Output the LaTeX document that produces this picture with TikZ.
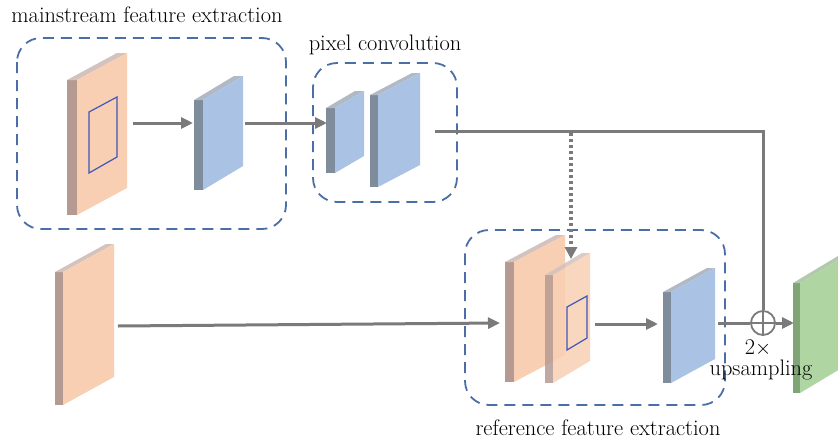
\documentclass[tikz,border=0pt]{standalone}
\usetikzlibrary{arrows.meta}
\definecolor{orF}{HTML}{F9CFB3}
\definecolor{orS}{HTML}{B59A92}
\definecolor{blF}{HTML}{AAC3E5}
\definecolor{blS}{HTML}{7E8C9C}
\definecolor{grF}{HTML}{AED5A2}
\definecolor{grS}{HTML}{7FA577}
\definecolor{boxC}{HTML}{4C6EA6}
\definecolor{arrC}{HTML}{7A7A7A}
\newcommand{\myslab}[8]{%
  \fill[#8] (#1-#2,#4) -- (#1,#4) -- (#1,#4+#5) -- (#1-#2,#4+#5) -- cycle;
  \fill[#8!60!white] (#1-#2,#4) -- (#1+#3-#2,#4-#6) -- (#1+#3,#4-#6) -- (#1,#4) -- cycle;
  \fill[#7] (#1,#4) -- (#1+#3,#4-#6) -- (#1+#3,#4+#5-#6) -- (#1,#4+#5) -- cycle;
}
\tikzset{
  groupbox/.style={draw=boxC, line width=1.8pt, dash pattern=on 11pt off 7pt, rounded corners=24pt},
  conn/.style={draw=arrC, line width=3pt},
  arr/.style={conn, -{Triangle[length=12pt,width=11pt]}},
  lbl/.style={font=\fontsize{22.4}{26}\selectfont, inner sep=0pt},
  inner/.style={draw=boxC!80!blue, line width=1.2pt}
}
\begin{document}
\begin{tikzpicture}[x=1pt,y=-1pt]
\clip (0,0) rectangle (838,442);
\fill[white] (0,0) rectangle (838,442);
% group boxes
\draw[groupbox] (17,38) rectangle (286,229);
\draw[groupbox] (313,63) rectangle (457,202);
\draw[groupbox] (465,230) rectangle (725,405);
% slabs
\myslab{77}{10}{50}{80}{135}{27}{orF}{orS}
\draw[inner] (89,112) -- (117,97) -- (117,157) -- (89,173) -- cycle;
\myslab{203}{9}{40}{100}{90}{24}{blF}{blS}
\myslab{335}{9}{29}{108}{65}{17}{blF}{blS}
\myslab{378}{8}{42}{95}{92}{22}{blF}{blS}
\myslab{63}{8}{51}{272}{133}{28}{orF}{orS}
\myslab{514}{9}{51}{262}{120}{27}{orF}{orS}
\begin{scope}[fill opacity=0.85]
\myslab{553}{8}{37}{275}{108}{22}{orF}{orS}
\end{scope}
\draw[inner] (567,307) -- (587,296) -- (587,338) -- (567,350) -- cycle;
\myslab{671}{8}{44}{292}{91}{24}{blF}{blS}
\myslab{800}{7}{60}{283}{110}{36}{grF}{grS}
% labels
\node[lbl] (l1) at (147,15) {mainstream feature extraction};
\node[lbl] (l2) at (385,45) {pixel convolution};
\node[lbl] (l3) at (598,428) {reference feature extraction};
\node[lbl] (l4) at (758,348) {2$\times$};
\node[lbl] (l5) at (761,370) {upsampling};
% connector points
\coordinate (o1r) at (133,123);
\coordinate (b1l) at (193,123);
\coordinate (b1r) at (245,123);
\coordinate (p1l) at (327,123);
\coordinate (p2r) at (435,131);
\coordinate (corner) at (763,131);
\coordinate (dtop) at (571,133);
\coordinate (r2top) at (571,259);
\coordinate (o5r) at (118,326);
\coordinate (r1l) at (500,323);
\coordinate (r2r) at (595,324);
\coordinate (r3l) at (658,324);
\coordinate (r3r) at (718,323);
\coordinate (gl) at (794,323);
\node[circle, draw=arrC, line width=1.8pt, fill=white, minimum size=24pt, inner sep=0pt] (plus) at (763,323) {};
\draw[arrC, line width=1.5pt] (plus.north) -- (plus.south) (plus.west) -- (plus.east);
% connectors
\draw[arr] (o1r) -- (b1l);
\draw[arr] (b1r) -- (p1l);
\draw[conn] (p2r) -- (corner) -- (plus.north);
\draw[arrC, line width=4pt, dash pattern=on 3pt off 3pt, -{Triangle[length=12pt,width=12pt]}] (dtop) -- (r2top);
\draw[arr] (o5r) -- (r1l);
\draw[arr] (r2r) -- (r3l);
\draw[conn] (r3r) -- (plus.west);
\draw[arr] (plus.east) -- (gl);
\end{tikzpicture}
\end{document}
